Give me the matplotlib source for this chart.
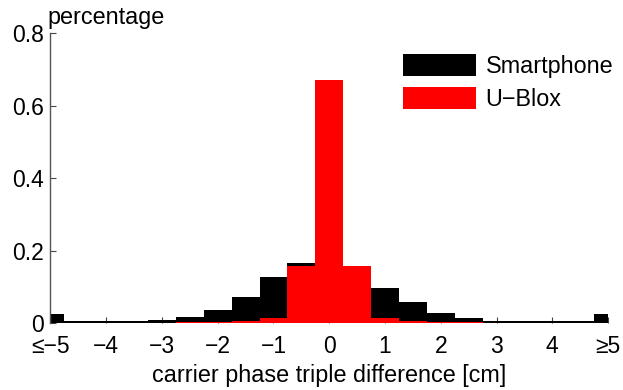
import numpy as np
import matplotlib
matplotlib.use("Agg")
import matplotlib.pyplot as plt

plt.rcParams["font.family"] = ["Liberation Sans", "DejaVu Sans"]

# ========================================
# data
# ========================================
centers = [-5, -4.5, -4, -3.5, -3, -2.5, -2, -1.5, -1, -0.5, 0,
           0.5, 1, 1.5, 2, 2.5, 3, 3.5, 4, 4.5, 5]
smartphone = [0.026, 0.005, 0.005, 0.006, 0.009, 0.018, 0.036, 0.073, 0.128, 0.166, 0.150,
              0.150, 0.098, 0.059, 0.029, 0.016, 0.007, 0.006, 0.006, 0.006, 0.026]
ublox = [0.002, 0.002, 0.002, 0.002, 0.002, 0.004, 0.004, 0.005, 0.015, 0.158, 0.670,
         0.158, 0.015, 0.005, 0.004, 0.003, 0.002, 0.002, 0.002, 0.002, 0.002]
xticks = [-5, -4, -3, -2, -1, 0, 1, 2, 3, 4, 5]
xticklabels = ["≤−5", "−4", "−3", "−2", "−1", "0", "1", "2", "3", "4", "≥5"]
yticks = [0, 0.2, 0.4, 0.6, 0.8]
yticklabels = ["0", "0.2", "0.4", "0.6", "0.8"]

# ========================================
# plot
# ========================================
fig = plt.figure(figsize=(6.23, 3.9), dpi=100)
ax = fig.add_axes([0.081, 0.171, 0.895, 0.744])

ax.bar(centers, smartphone, width=0.5, color="black", linewidth=0, label="Smartphone", zorder=2)
ax.bar(centers, ublox, width=0.5, color="#ff0000", linewidth=0, label="U−Blox", zorder=3)

ax.set_xlim(-5, 5)
ax.set_ylim(0, 0.8)
ax.set_xticks(xticks)
ax.set_xticklabels(xticklabels)
ax.set_yticks(yticks)
ax.set_yticklabels(yticklabels)
ax.set_axisbelow(True)
ax.tick_params(axis="both", direction="in", length=4, width=0.8, colors="#444444",
               labelcolor="black", labelsize=16.5)
ax.tick_params(axis="x", pad=8.5)
ax.tick_params(axis="y", pad=4.5)

for s in ["top", "right", "bottom"]:
    ax.spines[s].set_visible(False)
ax.spines["left"].set_color("#555555")
ax.spines["left"].set_linewidth(1.0)

ax.set_xlabel("carrier phase triple difference [cm]", fontsize=16.8, labelpad=4)
ax.text(-0.005, 1.015, "percentage", transform=ax.transAxes, fontsize=16.8,
        ha="left", va="bottom")

ax.legend(loc="upper left", bbox_to_anchor=(0.632, 0.928), frameon=False, fontsize=16.8,
          handlelength=3.13, handleheight=1.1, handletextpad=0.42, labelspacing=0.38,
          borderaxespad=0, borderpad=0)

fig.savefig("out.png", dpi=100)
